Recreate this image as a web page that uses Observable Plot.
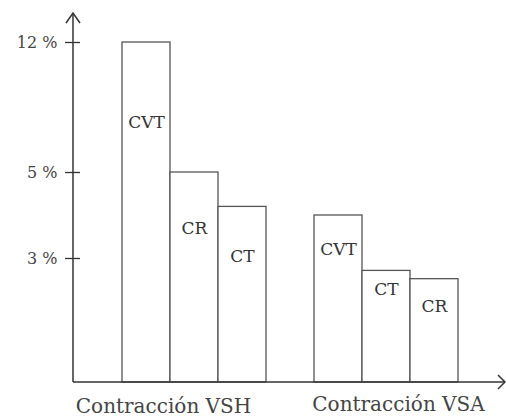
<!DOCTYPE html>
<html>
<head>
<meta charset="utf-8">
<script src="https://cdn.jsdelivr.net/npm/d3@7"></script>
<script src="https://cdn.jsdelivr.net/npm/@observablehq/plot@0.6"></script>
<style>
  html, body { margin: 0; padding: 0; background: #fff; }
  #chart svg { display: block; }
</style>
</head>
<body>
<div id="chart"></div>
<script>
// Data
const groups = ["Contracción VSH", "Contracción VSA"];
const seriesNames = [["CVT", "CR", "CT"], ["CVT", "CT", "CR"]];
const seriesValues = [[12, 5, 4.2], [4.0, 2.7, 2.5]];
const labelValues = [[7.7, 3.7, 3.05], [3.2, 2.25, 1.84]];
const yTicks = [3, 5, 12];
const yBreaks = [0, 3, 5, 12];

// Build table
const rows = [];
groups.forEach((g, gi) => {
  seriesNames[gi].forEach((s, si) => {
    rows.push({group: g, name: s, key: g + "|" + s, value: seriesValues[gi][si], labelY: labelValues[gi][si]});
  });
});
const xDomain = [
  ...rows.filter(d => d.group === groups[0]).map(d => d.key),
  "gap",
  ...rows.filter(d => d.group === groups[1]).map(d => d.key)
];
const groupLabels = groups.map((g, gi) => ({group: g, key: g + "|" + seriesNames[gi][1]}));

const serif = "'DejaVu Serif', 'Liberation Serif', serif";
const W = 506, H = 419;
const mL = 73, mB = 37, mT = 13;

// Non-uniform (broken) value axis as drawn in the reference
const warp = d3.scaleLinear().domain(yBreaks).range([0, 124, 210, 340]);

function axesArrows(index, scales, values, dim) {
  const g = d3.create("svg:g")
    .attr("fill", "none").attr("stroke", "#333").attr("stroke-width", 1.5);
  const x0 = dim.marginLeft, y0 = dim.height - dim.marginBottom;
  const yTop = dim.marginTop, xEnd = dim.width - 1;
  g.append("line").attr("x1", x0).attr("y1", y0).attr("x2", x0).attr("y2", yTop);
  g.append("path").attr("d", `M${x0 - 7},${yTop + 10}L${x0},${yTop}L${x0 + 7},${yTop + 10}`);
  g.append("line").attr("x1", x0).attr("y1", y0).attr("x2", xEnd).attr("y2", y0);
  g.append("path").attr("d", `M${xEnd - 7},${y0 - 7}L${xEnd},${y0}L${xEnd - 7},${y0 + 7}`);
  return g.node();
}

const groupText = (i, dx, dy) => Plot.text([groupLabels[i]], {
  x: "key", frameAnchor: "bottom", lineAnchor: "middle", dx, dy,
  text: "group", fontSize: 20, fontFamily: serif, fill: "#444"
});

const chart = Plot.plot({
  width: W,
  height: H,
  marginLeft: mL,
  marginRight: 1,
  marginTop: mT,
  marginBottom: mB,
  style: {background: "#fff", fontFamily: serif},
  x: {domain: xDomain, range: [121, 458], padding: 0, axis: null},
  y: {transform: warp, domain: [0, H - mB - mT], axis: null},
  marks: [
    Plot.barY(rows, {x: "key", y: "value", fill: "white", stroke: "#555", strokeWidth: 1.3}),
    Plot.text(rows, {x: "key", y: "labelY", text: "name", fontSize: 17, fontFamily: serif, fill: "#333"}),
    Plot.axisY(yTicks, {
      anchor: "left", tickSize: 15, dx: 7, tickPadding: 8,
      tickFormat: d => `${d} %`, stroke: "#333", strokeWidth: 1.3,
      fill: "#444", fontSize: 16, fontFamily: serif, label: null
    }),
    groupText(0, -31, 24),
    groupText(1, 12, 22),
    axesArrows
  ]
});
document.getElementById("chart").appendChild(chart);
</script>
</body>
</html>
